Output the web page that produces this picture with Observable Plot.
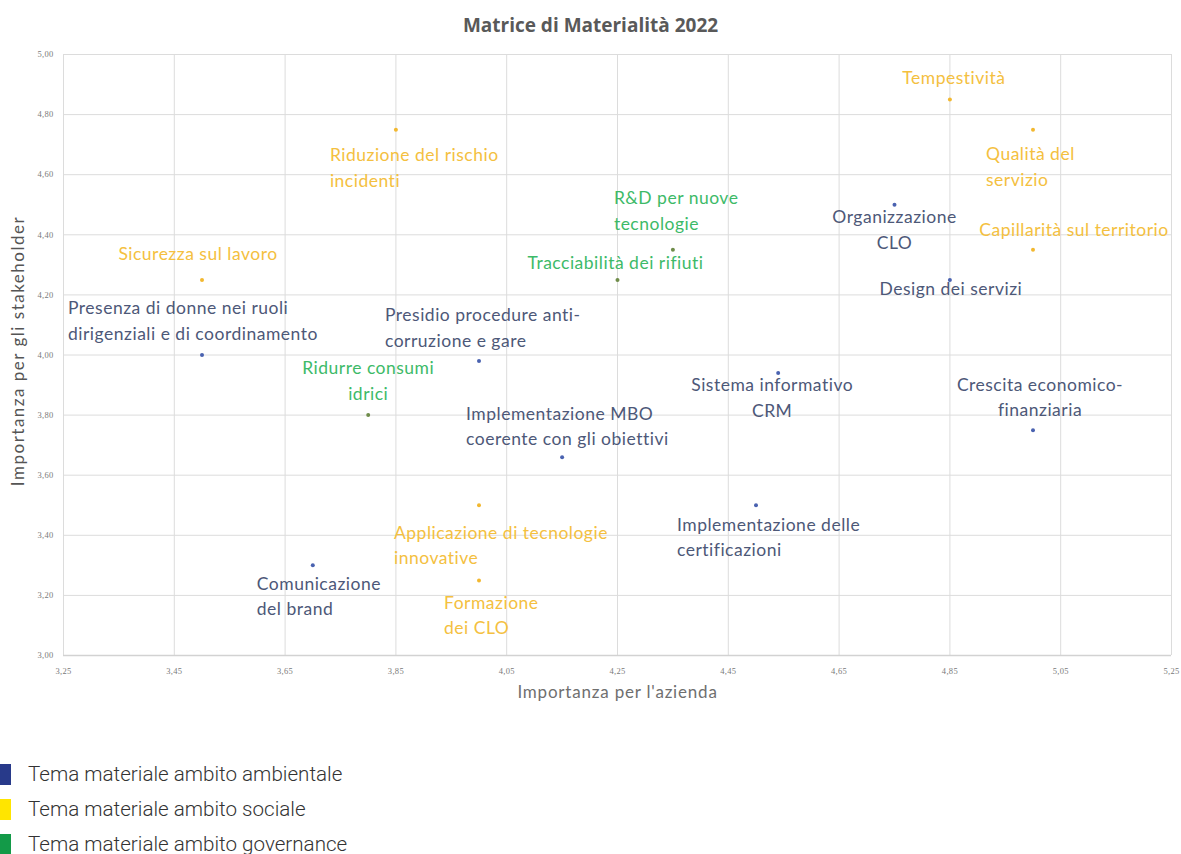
<!DOCTYPE html>
<html>
<head>
<meta charset="utf-8">
<script src="https://cdn.jsdelivr.net/npm/d3@7"></script>
<script src="https://cdn.jsdelivr.net/npm/@observablehq/plot@0.6"></script>
<style>
  body { margin: 0; background: #fff; width: 1181px; }
  #title {
    box-sizing: border-box; height: 40px; padding-top: 13px;
    text-align: center; font: bold 19px/24px "Open Sans", sans-serif; color: #595959;
  }
  #chart svg { display: block; overflow: visible; }
  #legend { margin-top: 47px; }
  .item { position: relative; height: 35px; font: 300 20.6px/35px Roboto, sans-serif; color: #333; padding-left: 28px; white-space: nowrap; }
  .sw { position: absolute; left: 0; top: 7px; width: 11px; height: 21px; }
</style>
</head>
<body>
<div id="title">Matrice di Materialità 2022</div>
<div id="chart"></div>
<div id="legend"></div>
<script>
// Material topics: company score (x) vs stakeholder score (y)
const topics = [
  "Tempestività",
  "Qualità del\nservizio",
  "Capillarità sul territorio",
  "Riduzione del rischio\nincidenti",
  "Sicurezza sul lavoro",
  "Applicazione di tecnologie\ninnovative",
  "Formazione\ndei CLO",
  "R&D per nuove\ntecnologie",
  "Tracciabilità dei rifiuti",
  "Ridurre consumi\nidrici",
  "Presenza di donne nei ruoli\ndirigenziali e di coordinamento",
  "Presidio procedure anti-\ncorruzione e gare",
  "Comunicazione\ndel brand",
  "Implementazione MBO\ncoerente con gli obiettivi",
  "Sistema informativo\nCRM",
  "Implementazione delle\ncertificazioni",
  "Crescita economico-\nfinanziaria",
  "Organizzazione\nCLO",
  "Design dei servizi"
];
const aziendaScores =      [4.85, 5.00, 5.00, 3.85, 3.50, 4.00, 4.00, 4.35, 4.25, 3.80, 3.50, 4.00, 3.70, 4.15, 4.54, 4.50, 5.00, 4.75, 4.85];
const stakeholderScores =  [4.85, 4.75, 4.35, 4.75, 4.25, 3.50, 3.25, 4.35, 4.25, 3.80, 4.00, 3.98, 3.30, 3.66, 3.94, 3.50, 3.75, 4.50, 4.25];
const ambiti = [
  "sociale", "sociale", "sociale", "sociale", "sociale", "sociale", "sociale",
  "governance", "governance", "governance",
  "ambientale", "ambientale", "ambientale", "ambientale", "ambientale", "ambientale", "ambientale", "ambientale", "ambientale"
];

const xTicks = [3.25, 3.45, 3.65, 3.85, 4.05, 4.25, 4.45, 4.65, 4.85, 5.05, 5.25];
const yTicks = [3.00, 3.20, 3.40, 3.60, 3.80, 4.00, 4.20, 4.40, 4.60, 4.80, 5.00];

const xTitle = "Importanza per l'azienda";
const yTitle = "Importanza per gli stakeholder";

const legendAmbiti = ["ambientale", "sociale", "governance"];
const legendLabels = ["Tema materiale ambito ambientale", "Tema materiale ambito sociale", "Tema materiale ambito governance"];

// Styling per area: legend swatch, dot and label colours
const swatchColor = {ambientale: "#283a8a", sociale: "#ffe500", governance: "#139a48"};
const dotColor = {ambientale: "#4a62b0", sociale: "#f2b830", governance: "#6f8c4a"};
const labelColor = {ambientale: "#4d5878", sociale: "#f4c040", governance: "#3dba68"};

// Label placement around each dot (pixels from the dot to the label block centre)
const labelPlacement = [
  {dx: 4, dy: -24, anchor: "middle"},
  {dx: -47, dy: 35, anchor: "start"},
  {dx: 41, dy: -22, anchor: "middle"},
  {dx: -66, dy: 36, anchor: "start"},
  {dx: -4, dy: -28, anchor: "middle"},
  {dx: -85, dy: 38, anchor: "start"},
  {dx: -35, dy: 33, anchor: "start"},
  {dx: -59, dy: -41, anchor: "start"},
  {dx: -2, dy: -19, anchor: "middle"},
  {dx: 0, dy: -36, anchor: "middle"},
  {dx: -134, dy: -36, anchor: "start"},
  {dx: -94, dy: -35, anchor: "start"},
  {dx: -56, dy: 29, anchor: "start"},
  {dx: -96, dy: -33, anchor: "start"},
  {dx: -6, dy: 23, anchor: "middle"},
  {dx: -79, dy: 30, anchor: "start"},
  {dx: 7, dy: -35, anchor: "middle"},
  {dx: 0, dy: 23, anchor: "middle"},
  {dx: 1, dy: 7, anchor: "middle"}
];

const rows = topics.map((t, i) => ({
  topic: t, azienda: aziendaScores[i], stakeholder: stakeholderScores[i], ambito: ambiti[i]
}));

const fmt = d => d.toFixed(2).replace(".", ",");

const labelMarks = rows.map((d, i) => Plot.text([d], {
  x: "azienda", y: "stakeholder", text: "topic",
  dx: labelPlacement[i].dx, dy: labelPlacement[i].dy,
  textAnchor: labelPlacement[i].anchor, lineAnchor: "middle", lineHeight: 1.47,
  fill: labelColor[d.ambito], fontSize: 17.5, fontFamily: "Lato"
}));

const chart = Plot.plot({
  width: 1181,
  height: 670,
  marginTop: 14,
  marginBottom: 55,
  marginLeft: 63,
  marginRight: 10,
  style: {background: "white", overflow: "visible"},
  x: {domain: [3.25, 5.25]},
  y: {domain: [3, 5]},
  marks: [
    Plot.gridX(xTicks, {stroke: "#dcdcdc", strokeOpacity: 1}),
    Plot.gridY(yTicks, {stroke: "#dcdcdc", strokeOpacity: 1}),
    Plot.ruleY([3], {stroke: "#d2d2d2", strokeWidth: 1.6}),
    Plot.axisX({ticks: xTicks, tickFormat: fmt, tickSize: 0, tickPadding: 12, label: null,
      fontSize: 8.5, fill: "#7a7a7a", fontFamily: "Liberation Sans Narrow"}),
    Plot.axisY({ticks: yTicks, tickFormat: fmt, tickSize: 0, tickPadding: 10, label: null,
      fontSize: 8.5, fill: "#7a7a7a", fontFamily: "Liberation Sans Narrow"}),
    Plot.text([xTitle], {frameAnchor: "bottom", dy: 42, fontSize: 17,
      fill: "#6f6f6f", fontFamily: "Lato"}),
    Plot.text([yTitle], {frameAnchor: "left", textAnchor: "middle", dx: -45, dy: -4, rotate: -90,
      fontSize: 17, fill: "#555", fontFamily: "Lato"}),
    Plot.dot(rows, {x: "azienda", y: "stakeholder", r: 2, fill: d => dotColor[d.ambito], stroke: null}),
    ...labelMarks
  ]
});
document.getElementById("chart").append(chart);

// Looser tracking for the point labels and the axis titles
const topicText = new Set(topics.map(t => t.replace(/\n/g, "")));
d3.select(chart).selectAll("text").each(function () {
  const t = this.textContent;
  if (topicText.has(t)) this.style.letterSpacing = "0.5px";
  else if (t === xTitle) this.style.letterSpacing = "0.8px";
  else if (t === yTitle) this.style.letterSpacing = "1.5px";
  else if (t.includes(",")) this.style.letterSpacing = "0.3px";
});

const legend = d3.select("#legend");
legendAmbiti.forEach((a, i) => {
  const item = legend.append("div").attr("class", "item");
  item.append("span").attr("class", "sw").style("background", swatchColor[a]);
  item.append("span").text(legendLabels[i]);
});
</script>
</body>
</html>
